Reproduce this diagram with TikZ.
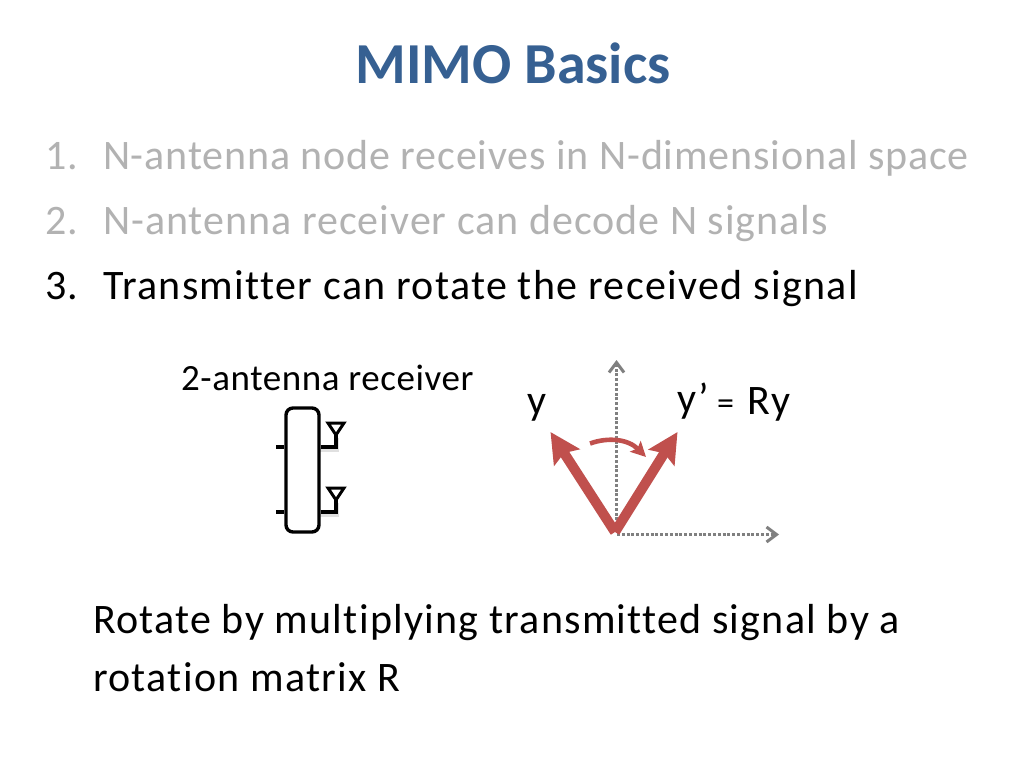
\documentclass[tikz,border=0pt]{standalone}
\usepackage{fontspec}
\setmainfont{Carlito}
\newfontfamily\widea[LetterSpace=2.4,Ligatures=NoCommon]{Carlito}
\newfontfamily\wideaa[LetterSpace=2.05,Ligatures=NoCommon]{Carlito}
\newfontfamily\wideb[LetterSpace=3.2,Ligatures=NoCommon]{Carlito}
\newfontfamily\widebb[LetterSpace=3.0,Ligatures=NoCommon]{Carlito}
\newfontfamily\widec[LetterSpace=1.5,Ligatures=NoCommon]{Carlito}
\usetikzlibrary{arrows.meta,calc}
\definecolor{titleblue}{RGB}{54,96,146}
\definecolor{dimgray}{RGB}{178,178,178}
\definecolor{arrowred}{RGB}{192,80,77}
\definecolor{axisgray}{RGB}{128,128,128}
\tikzset{
  x=1pt,y=-1pt,
  txt/.style={anchor=base west,inner sep=0pt,outer sep=0pt,font=\fontsize{42}{42}\selectfont\wideb},
  dimtxt/.style={anchor=base west,inner sep=0pt,outer sep=0pt,text=dimgray,font=\fontsize{42}{42}\selectfont\widea},
  wire/.style={line width=3.4pt,black},
  wireshadow/.style={line width=3.4pt,black,opacity=0.12},
  axis/.style={line width=3.4pt,axisgray,dash pattern=on 3pt off 1.8pt,-{Straight Barb[length=10pt,width=15pt,line width=3pt]}},
  vec/.style={line width=10pt,arrowred,line cap=butt,-{Stealth[length=30pt,width=30pt,inset=5pt]}},
}
\begin{document}
\begin{tikzpicture}
\useasboundingbox (0,0) rectangle (1024,768);
\fill[white] (0,0) rectangle (1024,768);
\node[anchor=base,inner sep=0pt,text=titleblue,font=\fontsize{58}{58}\selectfont\bfseries] (title) at (513,83) {MIMO Basics};
\node[dimtxt] (n1) at (45,169) {1.};
\node[dimtxt,font=\fontsize{42}{42}\selectfont\wideaa] (t1) at (103,169) {N-antenna node receives in N-dimensional space};
\node[dimtxt] (n2) at (45,234) {2.};
\node[dimtxt] (t2) at (103,234) {N-antenna receiver can decode N signals};
\node[txt] (n3) at (45,299) {3.};
\node[txt] (t3) at (103,299) {Transmitter can rotate the received signal};
\node[anchor=base west,inner sep=0pt,font=\fontsize{37}{37}\selectfont\widec] (rx) at (181,390) {2-antenna receiver};
\node[txt] (y) at (527,414) {y};
\node[txt] (yp) at (677,412) {y’};
\node[txt] (eq) at (717,414) {{\fontsize{34}{34}\selectfont =}\hspace{3pt} Ry};
\node[txt,font=\fontsize{42}{42}\selectfont\widebb] (b1) at (93,633) {Rotate by multiplying transmitted signal by a};
\node[txt] (b2) at (93,691) {rotation matrix R};
% receiver shadow
\begin{scope}[shift={(1,3)}]
\draw[wireshadow] (319,447) -- (336,447) -- (336,435);
\draw[wireshadow] (319,512) -- (336,512) -- (336,500);
\end{scope}
% receiver
\node[draw=black,line width=3.4pt,rounded corners=7pt,minimum width=33pt,minimum height=124pt,inner sep=0pt,fill=white] (box) at (302.5,470) {};
\coordinate (i1) at (276,447); \coordinate (i2) at (276,512);
\coordinate (o1) at (336,447); \coordinate (o2) at (336,512);
\coordinate (a1) at (336,435); \coordinate (a2) at (336,500);
\draw[wire] (i1) -- (i1 -| box.west);
\draw[wire] (i2) -- (i2 -| box.west);
\draw[wire] (box.east |- o1) -- (o1) -- (a1);
\draw[wire] (box.east |- o2) -- (o2) -- (a2);
\draw[wire,line width=3pt,line join=miter] (328,423) -- (344,423) -- (a1) -- cycle;
\draw[wire,line width=3pt,line join=miter] (328,488) -- (344,488) -- (a2) -- cycle;
% axes
\coordinate (org) at (615,532);
\coordinate (ytop) at (616.5,360);
\coordinate (yfoot) at (616.5,530);
\coordinate (xstart) at (617,534.5);
\coordinate (xend) at (779,534.5);
\draw[axis] (yfoot) -- (ytop);
\draw[axis] (xstart) -- (xend);
% vectors
\coordinate (yv) at (550.5,432);
\coordinate (ypv) at (677.5,432);
\draw[vec] (org) -- (yv);
\draw[vec] (org) -- (ypv);
\draw[arrowred,line width=4.6pt,-{Stealth[length=15pt,width=15pt,inset=3pt]}] (590,443.5) .. controls (608,437) and (628,439) .. (646,457);
\end{tikzpicture}
\end{document}
